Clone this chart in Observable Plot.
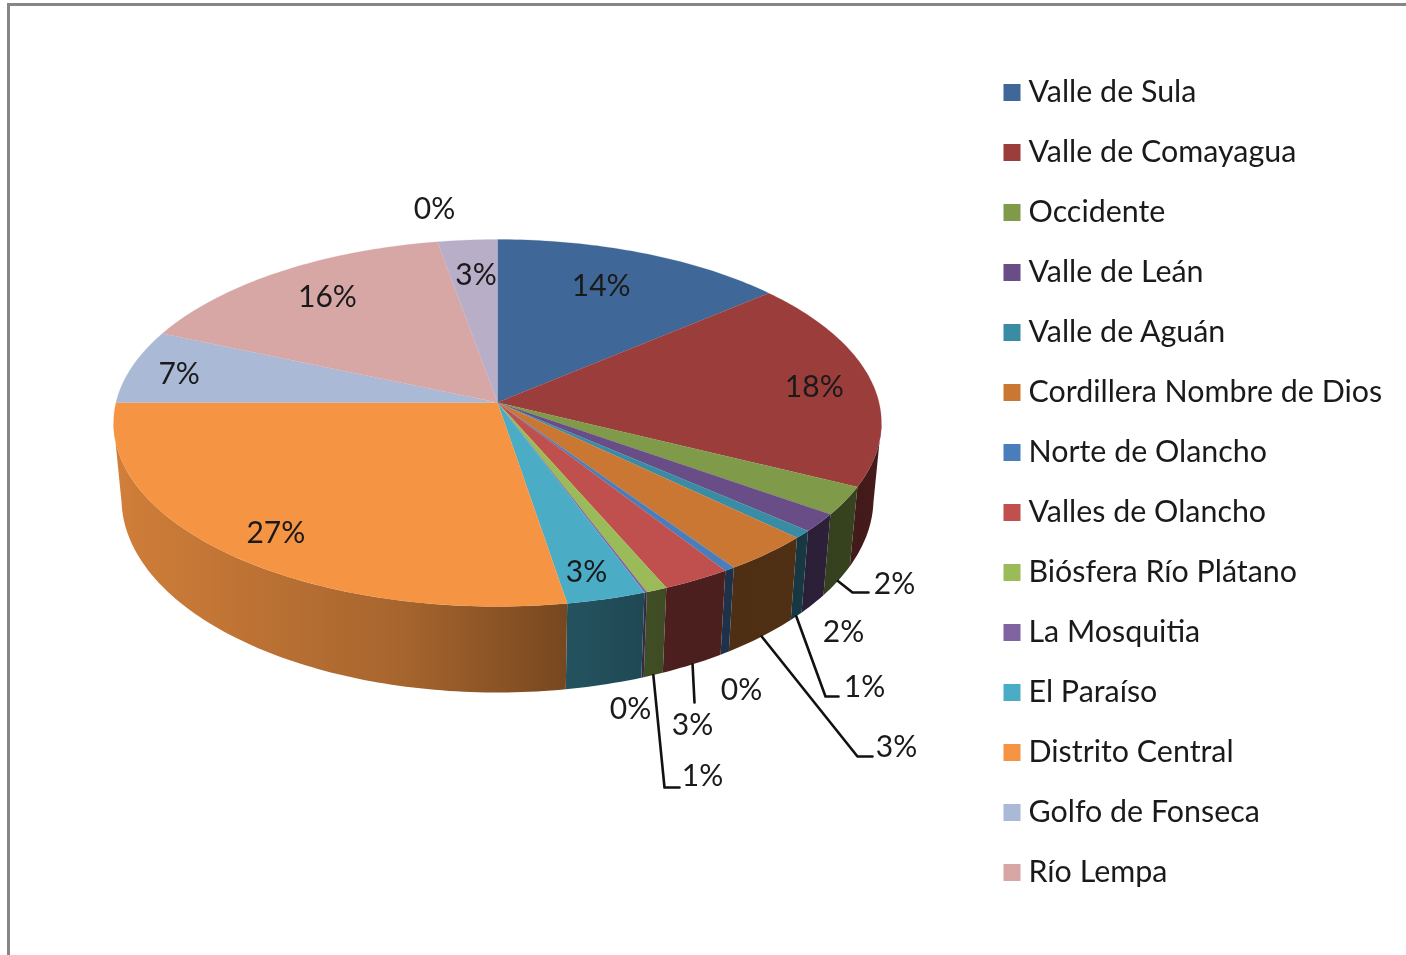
<!DOCTYPE html>
<html><head><meta charset="utf-8">
<script src="https://cdn.jsdelivr.net/npm/d3@7"></script>
<script src="https://cdn.jsdelivr.net/npm/@observablehq/plot@0.6"></script>
<style>
html,body{margin:0;padding:0;background:#fff;overflow:hidden}
#page{position:relative;width:1406px;height:955px;overflow:hidden;filter:blur(.5px)}
#frame{position:absolute;left:7px;top:3px;width:1500px;height:1100px;border-left:3px solid #868686;border-top:3px solid #868686}
#pie{position:absolute;left:0;top:0}
#legend{position:absolute;left:990px;top:0}
svg{display:block;background:transparent !important}
</style></head>
<body><div id="page"><div id="frame"></div><div id="pie"></div><div id="legend"></div></div>
<script>
// Legend categories
const categories = ["Valle de Sula","Valle de Comayagua","Occidente","Valle de Leán","Valle de Aguán","Cordillera Nombre de Dios","Norte de Olancho","Valles de Olancho","Biósfera Río Plátano","La Mosquitia","El Paraíso","Distrito Central","Golfo de Fonseca","Río Lempa"];
// Shares (%), the two last slices have no legend entry
const shares = [13.8,18.5,2.5,1.6,0.7,3.4,0.4,2.6,0.8,0.1,3.0,27.6,6.5,15.7,0.0,2.8];
const shareLabels = ["14%","18%","2%","2%","1%","3%","0%","3%","1%","0%","3%","27%","7%","16%","0%","3%"];
const colors = ["#3f6797","#9a3d3b","#7f9a48","#694d87","#3a8ca5","#c97733","#4a7ebb","#c0504d","#9bbb59","#8064a2","#4bacc6","#f59443","#a9b9d6","#d7a7a6","#c4b8d0","#b8aec8"];

// Layout of the tilted disc
const hub = {x:497, y:402}, R = 381.5, S = 181.2, K = 0.1117;
const bottomRim = {rx:376, ry:194, cy:498, rim:384};
const shadeStops = [[119,.85],[400,.68],[567,.48],[680,.39],[800,.40],[880,.45]];
// Inside labels: slice index, radius factor and angle nudge on the slice's mid-angle
const innerLabels = [[0,.70,-2],[1,.835,1],[10,.96,.7],[11,.923,-1.3],[12,.85,-.7],[13,.735,1.0],[15,.71,.5]];
// Outside labels: slice index, label point, then the leader's elbow and end (if any)
const outerLabels = [
  {i:2, at:[894,583], leader:[[852,592],[868,592]]},
  {i:3, at:[843,631]},
  {i:4, at:[864,686], leader:[[825,696],[838,696]]},
  {i:5, at:[896,746], leader:[[857,756],[872,756]]},
  {i:6, at:[741,689]},
  {i:7, at:[692,724], leader:[[694,702]]},
  {i:8, at:[702,775], leader:[[664,787],[679,787]]},
  {i:9, at:[630,708]},
  {i:14, at:[434,208]}
];

const cum = d3.cumsum(shares);
const angle0 = i => (i ? cum[i-1] : 0) * 3.6;
const angle1 = i => cum[i] * 3.6;
const mid = i => (angle0(i)+angle1(i))/2;
const rad = d => d*Math.PI/180;
function rim(t){const u=Math.sin(rad(t)),v=-Math.cos(rad(t)),w=1-K*v;return [hub.x+R*u/w,hub.y+S*v/w];}
function rimBottom(t){const [X]=rim(t);const dx=(X-hub.x)*bottomRim.rx/bottomRim.rim;
  const q=Math.max(0,1-(dx/bottomRim.rx)**2);return [hub.x+dx,bottomRim.cy+bottomRim.ry*Math.sqrt(q)];}
const tMin = 90+Math.asin(K)*180/Math.PI, tMax = 270-Math.asin(K)*180/Math.PI;

// Top faces
const topFaces = [];
shares.forEach((s,i)=>{ if(!s) return;
  const pts=[[hub.x,hub.y]]; const n=Math.max(2,Math.ceil(angle1(i)-angle0(i)));
  for(let j=0;j<=n;j++) pts.push(rim(angle0(i)+(angle1(i)-angle0(i))*j/n));
  pts.forEach(p=>topFaces.push({x:p[0],y:p[1],z:"t"+i,c:colors[i]}));
});
// Side wall: one polygon per slice, filled with a horizontal gradient of its darkened colour
const sideWall = [];
shares.forEach((s,i)=>{ const a=Math.max(angle0(i),tMin), b=Math.min(angle1(i),tMax); if(!s||b<=a) return;
  const n=Math.max(1,Math.ceil(b-a)), ts=d3.range(n+1).map(j=>a+(b-a)*j/n);
  [...ts.map(rim),...ts.slice().reverse().map(rimBottom)].forEach(p=>
    sideWall.push({x:p[0],y:p[1],z:"s"+i,c:`url(#side-${i})`}));
});
function gradients(){
  const defs=d3.create("svg:defs");
  colors.forEach((c,i)=>{
    const g=defs.append("linearGradient").attr("id","side-"+i).attr("gradientUnits","userSpaceOnUse")
      .attr("x1",shadeStops[0][0]).attr("x2",shadeStops[shadeStops.length-1][0]).attr("y1",0).attr("y2",0);
    const base=d3.rgb(c), span=shadeStops[shadeStops.length-1][0]-shadeStops[0][0];
    shadeStops.forEach(([x,m])=>g.append("stop").attr("offset",(x-shadeStops[0][0])/span)
      .attr("stop-color",d3.rgb(base.r*m,base.g*m,base.b*m).formatHex()));
  });
  return defs.node();
}
// Leaders
const leaders=[];
outerLabels.filter(d=>d.leader).forEach(d=>{
  [rimBottom(mid(d.i)),...d.leader].forEach(p=>leaders.push({x:p[0],y:p[1],z:d.i}));
});
const labels=[
  ...innerLabels.map(([i,r,n])=>({x:hub.x+R*r*Math.sin(rad(mid(i)+n)),y:hub.y-S*r*Math.cos(rad(mid(i)+n)),t:shareLabels[i]})),
  ...outerLabels.map(d=>({x:d.at[0],y:d.at[1],t:shareLabels[d.i]}))
];
const FONT="Lato";
const piePlot=Plot.plot({
  width:990,height:955,margin:0,
  x:{domain:[0,990],range:[0,990],axis:null},
  y:{domain:[0,955],range:[0,955],axis:null},
  color:{type:"identity"},
  style:{background:"transparent"},
  marks:[
    gradients,
    Plot.line(sideWall,{x:"x",y:"y",z:"z",fill:"c",curve:"linear-closed"}),
    Plot.line(topFaces,{x:"x",y:"y",z:"z",fill:"c",stroke:"c",strokeWidth:.2,curve:"linear"}),
    Plot.line(leaders,{x:"x",y:"y",z:"z",stroke:"#111",strokeWidth:2.6,curve:"linear"}),
    Plot.text(labels,{x:"x",y:"y",text:"t",dy:1,fontSize:30,fontFamily:FONT,fill:"#1a1a1a"})
  ]
});
document.getElementById("pie").append(piePlot);
const legendPlot=Plot.plot({
  width:416,height:955,margin:0,
  x:{domain:[0,416],range:[0,416],axis:null},
  y:{type:"point",domain:categories,range:[92,872],padding:0,axis:null},
  color:{domain:categories,range:colors},
  style:{background:"transparent"},
  marks:[
    Plot.dot(categories,{x:()=>21.5,y:d=>d,fill:d=>d,symbol:"square",r:9.6}),
    Plot.text(categories,{x:()=>38,y:d=>d,text:d=>d,textAnchor:"start",fontSize:30.4,fontFamily:FONT,fill:"#1a1a1a"})
  ]
});
document.getElementById("legend").append(legendPlot);
</script></body></html>
